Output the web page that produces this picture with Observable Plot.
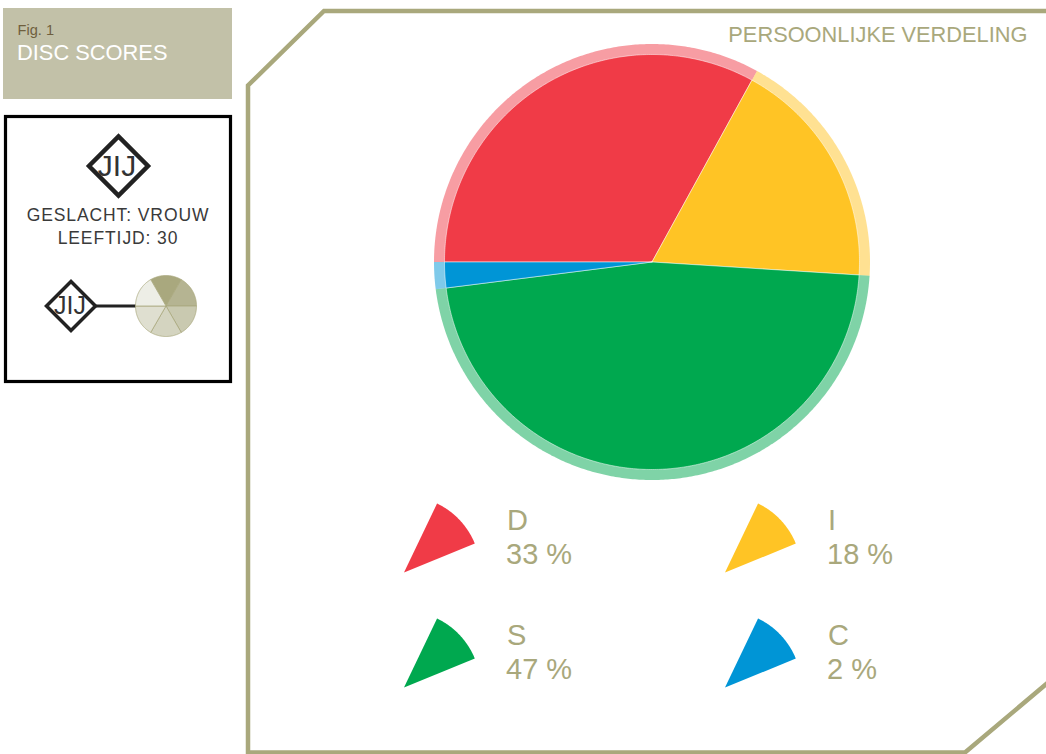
<!DOCTYPE html>
<html>
<head>
<meta charset="utf-8">
<script src="https://cdn.jsdelivr.net/npm/d3@7"></script>
<script src="https://cdn.jsdelivr.net/npm/@observablehq/plot@0.6"></script>
<style>
html,body{margin:0;padding:0;background:#fff}
svg{display:block}
</style>
</head>
<body>
<div id="chart"></div>
<script>
// Data
const categories = ["D", "I", "S", "C"];
const shares = [33, 18, 47, 2];
const colors = ["#f03b47", "#ffc425", "#00a84f", "#0095d6"];
const profileSlices = [1, 1, 1, 1, 1, 1];
const profileColors = ["#a9a87e", "#b5b492", "#c9c9b0", "#d4d4c0", "#dfdfd0", "#edeee6"];
const figLabel = "Fig. 1";
const figTitle = "DISC SCORES";
const panelTitle = "PERSOONLIJKE VERDELING";
const personLines = ["GESLACHT: VROUW", "LEEFTIJD: 30"];
const badge = "JIJ";

const olive = "#a9a87c";
const ink = "#222222";
const font = "'Liberation Sans', Arial, sans-serif";

// Polar helpers: angle in radians clockwise from north, start of the pie is at west
function wedge(key, a0, a1, cx, cy, r) {
  const pts = [{key, x: cx, y: cy}];
  const n = Math.max(2, Math.ceil((a1 - a0) / 0.01));
  for (let i = 0; i <= n; i++) {
    const a = a0 + (a1 - a0) * i / n;
    pts.push({key, x: cx + r * Math.sin(a), y: cy - r * Math.cos(a)});
  }
  pts.push({key, x: cx, y: cy});
  return pts;
}
function pieWedges(keys, values, start, cx, cy, r) {
  const total = d3.sum(values);
  let a = start;
  return keys.flatMap((k, i) => {
    const a0 = a;
    a += values[i] / total * 2 * Math.PI;
    return wedge(k, a0, a, cx, cy, r);
  });
}
const deg = Math.PI / 180;
const diamond = (cx, cy, h) => [
  {x: cx, y: cy - h}, {x: cx + h, y: cy}, {x: cx, y: cy + h}, {x: cx - h, y: cy}, {x: cx, y: cy - h}, {x: cx + h, y: cy}
];
const spaced = (px) => (i, s, v, d, c, next) => {
  const g = next(i, s, v, d, c);
  g.style.letterSpacing = px;
  return g;
};
const sharp = {strokeLinejoin: "miter", strokeMiterlimit: 10, strokeLinecap: "butt"};

const pieC = {x: 651.5, y: 261.5};
const ringData = pieWedges(categories, shares, -90 * deg, pieC.x, pieC.y, 218);
const coreData = pieWedges(categories, shares, -90 * deg, pieC.x, pieC.y, 207.5);

const legendSpots = categories.map((k, i) => ({
  key: k,
  share: shares[i],
  x: 403.5 + (i % 2) * 321,
  y: 572 + Math.floor(i / 2) * 115
}));
const legendWedges = legendSpots.flatMap(s => wedge(s.key, 25.6 * deg, 67.8 * deg, s.x, s.y, 76.5));

const smallLabels = profileColors.map((c, i) => "p" + i);
const profileData = pieWedges(smallLabels, profileSlices, -30 * deg, 165.5, 305.5, 30.5);

const framePath = [
  {x: 1050, y: 10.5}, {x: 323.5, y: 10.5}, {x: 247.5, y: 85}, {x: 247.5, y: 752}, {x: 964.5, y: 752}, {x: 1050, y: 680}
];

const chart = Plot.plot({
  width: 1046,
  height: 754,
  margin: 0,
  style: {background: "#fff", fontFamily: font},
  x: {domain: [0, 1046], range: [0, 1046], axis: null},
  y: {domain: [0, 754], range: [0, 754], axis: null},
  color: {domain: [...categories, ...smallLabels], range: [...colors, ...profileColors]},
  marks: [
    // header card
    Plot.rect([0], {x1: 3, x2: 232, y1: 8, y2: 99, fill: "#c2c1a8"}),
    Plot.text([figLabel], {x: 17, y: 34.5, text: d => d, textAnchor: "start", lineAnchor: "bottom", fontSize: 14.6, fill: "#6f5f3e"}),
    Plot.text([figTitle], {x: 16.5, y: 59.5, text: d => d, textAnchor: "start", lineAnchor: "bottom", fontSize: 21.85, fill: "#fff"}),

    // person card
    Plot.rect([0], {x1: 5.5, x2: 230.5, y1: 116.5, y2: 381.5, fill: "#fff", stroke: "#000", strokeWidth: 3.2}),
    Plot.line(diamond(118, 165.5, 29.5), {x: "x", y: "y", stroke: ink, strokeWidth: 4.5, ...sharp}),
    Plot.text([badge], {x: 116.5, y: 175, text: d => d, lineAnchor: "bottom", fontSize: 30, fill: "#333"}),
    Plot.text(personLines, {x: 117.5, y: (d, i) => 220 + i * 23, text: d => d, lineAnchor: "bottom", fontSize: 17.5, fill: "#3a3a3a", render: spaced("0.9px")}),
    Plot.line(diamond(70.5, 305.5, 24.5), {x: "x", y: "y", stroke: ink, strokeWidth: 3.5, ...sharp}),
    Plot.text([badge], {x: 69.5, y: 313, text: d => d, lineAnchor: "bottom", fontSize: 25, fill: "#333"}),
    Plot.ruleY([305.5], {x1: 95, x2: 136, stroke: ink, strokeWidth: 3}),
    Plot.line(profileData, {x: "x", y: "y", z: "key", fill: "key", stroke: "#a9a87e", strokeWidth: 0.8, strokeLinejoin: "round"}),

    // main panel
    Plot.line(framePath, {x: "x", y: "y", stroke: olive, strokeWidth: 4.5, ...sharp}),
    Plot.text([panelTitle], {x: 1027, y: 41, text: d => d, textAnchor: "end", lineAnchor: "bottom", fontSize: 21.8, fill: olive}),

    // pie
    Plot.line(ringData, {x: "x", y: "y", z: "key", fill: "key", fillOpacity: 0.5, stroke: "#fff", strokeWidth: 0.8, strokeOpacity: 0}),
    Plot.line(coreData, {x: "x", y: "y", z: "key", fill: "key", stroke: "#fff", strokeWidth: 0.9, strokeOpacity: 0.55}),

    // legend
    Plot.line(legendWedges, {x: "x", y: "y", z: "key", fill: "key"}),
    Plot.text(legendSpots, {x: d => d.x + 103, y: d => d.y - 43, text: "key", textAnchor: "start", lineAnchor: "bottom", fontSize: 29, fill: olive}),
    Plot.text(legendSpots, {x: d => d.x + 102, y: d => d.y - 8.5, text: d => `${d.share} %`, textAnchor: "start", lineAnchor: "bottom", fontSize: 29, fill: olive})
  ]
});
document.getElementById("chart").append(chart);
</script>
</body>
</html>
